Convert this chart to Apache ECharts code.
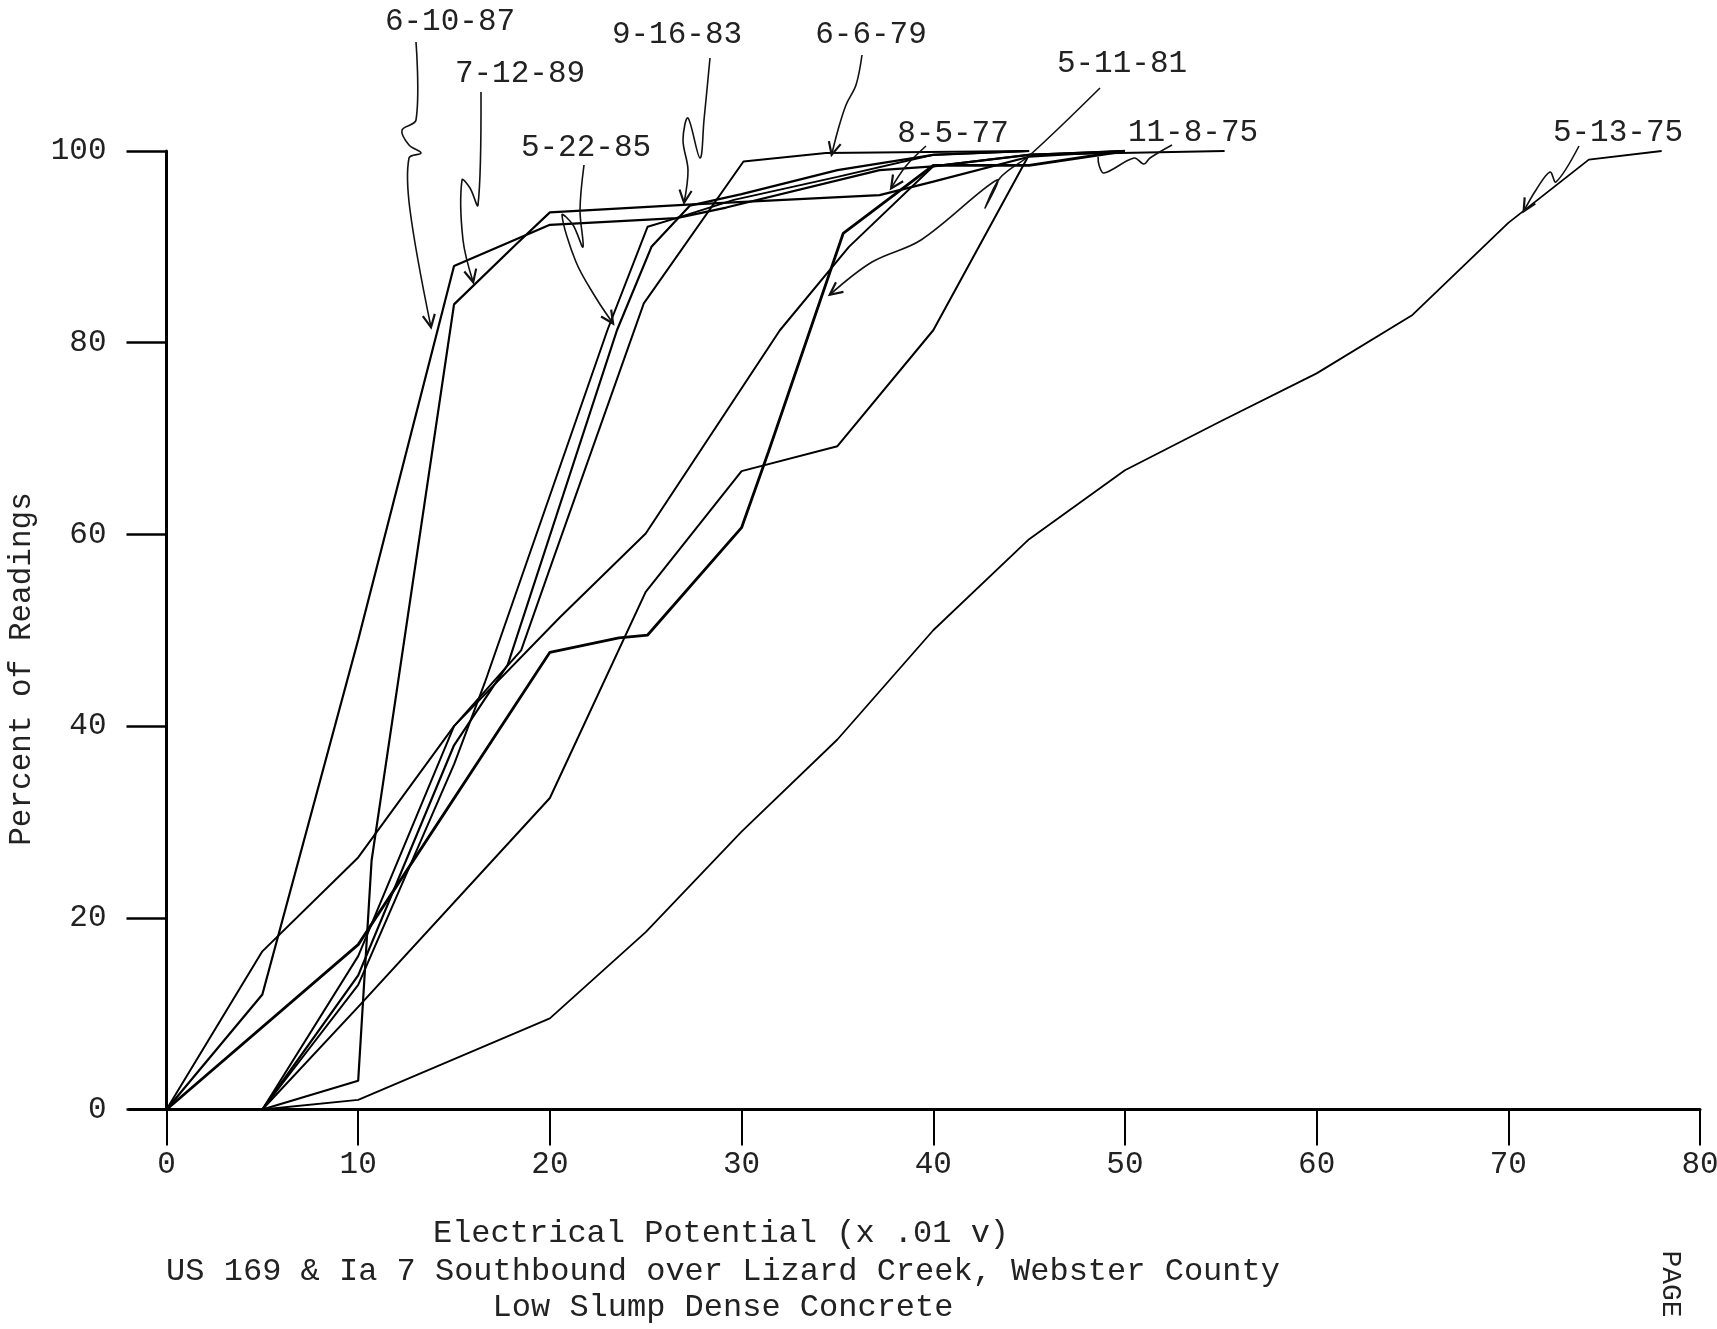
<!DOCTYPE html>
<html><head><meta charset="utf-8">
<script src="https://cdn.jsdelivr.net/npm/echarts@6/dist/echarts.min.js"></script>
<style>html,body{margin:0;padding:0;background:#fff}#c{width:1717px;height:1329px}</style>
</head><body><div id="c"></div>
<script>
// ---- data (x = electrical potential, x .01 v ; y = percent of readings) ----
const xTickValues = [0, 10, 20, 30, 40, 50, 60, 70, 80];
const yTickValues = [0, 20, 40, 60, 80, 100];
const seriesNames = ['6-10-87', '7-12-89', '9-16-83', '6-6-79', '5-22-85', '5-11-81', '8-5-77', '11-8-75', '5-13-75'];

const s_6_10_87 = [[0,0],[5,12],[10,49],[15,88],[20,92.3],[26.6,93],[29.2,94.1],[37.2,98],[40,98.4],[45,99.6],[50,100]];
const s_7_12_89 = [[5,0],[10,3],[10.7,26],[15,84],[18.2,90.2],[20,93.6],[27.2,94.4],[37.2,95.4],[40,96.8],[45,99.4],[50,100]];
const s_9_16_83 = [[5,0],[10,14],[15,38],[17.8,46.4],[23.5,81.3],[25.3,90],[27.3,94.3],[30,95.5],[35,98],[40,99.6],[45,100]];
const s_6_6_79  = [[5,0],[10,16],[15,40],[18.5,47.9],[20.1,57],[24.9,84.1],[30.1,98.9],[34.4,99.8],[45,100]];
const s_5_22_85 = [[5,0],[10,13],[15,36],[16.6,44.5],[23,81.3],[25.1,92.1],[26.6,93],[29.6,94.9],[35,97.3],[40,99.6],[45,100]];
const s_5_11_81 = [[0,0],[10,17.2],[20,47.7],[23.6,49.2],[25.1,49.5],[30,60.7],[31.4,68.6],[35.3,91.4],[40,98.5],[45,98.5],[50,100]];
const s_8_5_77  = [[0,0],[5,16.5],[10,26.3],[15,40],[20.5,51.3],[25,60.1],[32,81.3],[35.6,90],[40,98.4],[45,99.6],[50,100]];
const s_11_8_75 = [[5,0],[10,10.7],[20,32.5],[25,54],[30,66.6],[35,69.2],[40,81.3],[45,99.6],[55.2,100]];
const s_5_13_75 = [[5,0],[10,1],[20,9.5],[25,18.5],[30,29],[35,38.6],[40,50],[45,59.5],[50,66.7],[55,71.8],[60,76.8],[65,82.9],[70,92.5],[74.2,99.1],[78,100]];

const seriesData = [s_6_10_87, s_7_12_89, s_9_16_83, s_6_6_79, s_5_22_85, s_5_11_81, s_8_5_77, s_11_8_75, s_5_13_75];
const seriesWidths = [2.2, 2.2, 2.2, 2, 2, 2.8, 2, 2, 1.8];

// annotation targets (data coordinates the hand-drawn arrows point to)
const labelTargets = {
  '6-10-87': [13.8, 81.6], '7-12-89': [16, 86.3], '9-16-83': [27, 94.6], '6-6-79': [34.7, 99.6],
  '5-22-85': [23.3, 82], '5-11-81': [34.6, 85], '8-5-77': [37.8, 96.1], '11-8-75': [48.6, 99.4], '5-13-75': [70.8, 93.7]
};

// ---- layout of the annotations (pixels) ----
const labelLayout = [
  {name:'6-10-87', pos:[450,22], path:[[416,42],[416,120],[402,130],[409,145],[421,153],[409,158],[410,210]], arrow:true},
  {name:'7-12-89', pos:[520,74], path:[[481,92],[478,205],[470,188],[462,180],[463,240]], arrow:true},
  {name:'9-16-83', pos:[677,35], path:[[710,58],[704,120],[700,158],[688,118],[683,140],[688,170]], arrow:true},
  {name:'6-6-79',  pos:[871,35], path:[[862,55],[856,85],[846,105],[838,130]], arrow:true},
  {name:'5-22-85', pos:[586,148], path:[[584,165],[580,210],[583,247],[573,225],[562,215],[576,262],[596,298]], arrow:true},
  {name:'5-11-81', pos:[1122,64], path:[[1100,88],[1030,155],[1000,178],[985,208],[997,180],[921,240],[872,262]], arrow:true},
  {name:'8-5-77',  pos:[953,134], path:[[926,146],[906,166]], arrow:true},
  {name:'11-8-75', pos:[1193,133], path:[[1172,145],[1150,158],[1144,164],[1134,158],[1104,173],[1099,165]], arrow:false},
  {name:'5-13-75', pos:[1618,133], path:[[1579,146],[1556,182],[1550,172],[1536,190]], arrow:true}
];

const FONT = "'Liberation Mono', 'DejaVu Sans Mono', monospace";

const chart = echarts.init(document.getElementById('c'), null, {renderer: 'canvas'});

const option = {
  animation: false,
  backgroundColor: '#fff',
  grid: {left: 166.5, right: 17, top: 151, bottom: 219.5, containLabel: false, outerBoundsMode: 'none'},
  xAxis: {
    type: 'value', min: 0, max: 80, interval: 10,
    axisLine: {show: true, onZero: false, lineStyle: {color: '#000', width: 3}},
    axisTick: {show: true, inside: false, length: 36, lineStyle: {color: '#000', width: 2}},
    axisLabel: {show: true, margin: 40, fontFamily: FONT, fontSize: 31, color: '#222',
      formatter: v => xTickValues.indexOf(v) >= 0 ? String(v) : ''},
    splitLine: {show: false}
  },
  yAxis: {
    type: 'value', min: 0, max: 100, interval: 20,
    axisLine: {show: true, onZero: false, lineStyle: {color: '#000', width: 3}},
    axisTick: {show: true, inside: false, length: 40, lineStyle: {color: '#000', width: 2.5}},
    axisLabel: {show: true, margin: 60, fontFamily: FONT, fontSize: 31, color: '#222',
      formatter: v => yTickValues.indexOf(v) >= 0 ? String(v) : ''},
    splitLine: {show: false}
  },
  series: seriesData.map((d, i) => ({
    name: seriesNames[i], type: 'line', data: d, showSymbol: false, symbol: 'none',
    lineStyle: {color: '#000', width: seriesWidths[i]}, z: 3
  }))
};
chart.setOption(option);

function toPx(p) { return chart.convertToPixel({gridIndex: 0}, p); }

const g = [];
const textStyle = (t, size) => ({text: t, font: size + 'px ' + FONT, fill: '#222', align: 'center', verticalAlign: 'middle'});

labelLayout.forEach(l => {
  g.push({type: 'text', x: l.pos[0], y: l.pos[1], style: textStyle(l.name, 31), z: 10});
  const tgt = toPx(labelTargets[l.name]);
  const pts = l.path.concat([tgt]);
  g.push({type: 'polyline', shape: {points: pts, smooth: 0.35}, style: {stroke: '#111', lineWidth: 1.6, fill: null}, z: 10});
  if (l.arrow) {
    const a = pts[pts.length - 2], b = tgt;
    const ang = Math.atan2(b[1] - a[1], b[0] - a[0]);
    const L = 14, w = 0.45;
    const p1 = [b[0] - L * Math.cos(ang - w), b[1] - L * Math.sin(ang - w)];
    const p2 = [b[0] - L * Math.cos(ang + w), b[1] - L * Math.sin(ang + w)];
    g.push({type: 'polyline', shape: {points: [p1, b, p2]}, style: {stroke: '#111', lineWidth: 2.2, fill: null}, z: 10});
  }
});

// left extension of the x axis line
const o = toPx([0, 0]);
g.push({type: 'line', shape: {x1: o[0] - 38, y1: o[1], x2: o[0], y2: o[1]}, style: {stroke: '#000', lineWidth: 3}, z: 5});

// axis titles and captions
g.push({type: 'text', x: 22, y: 669, rotation: Math.PI / 2, style: textStyle('Percent of Readings', 31)});
g.push({type: 'text', x: 721, y: 1234, style: textStyle('Electrical Potential (x .01 v)', 32)});
g.push({type: 'text', x: 723, y: 1272, style: textStyle('US 169 & Ia 7 Southbound over Lizard Creek, Webster County', 32)});
g.push({type: 'text', x: 723, y: 1308, style: textStyle('Low Slump Dense Concrete', 32)});
g.push({type: 'text', x: 1670, y: 1284, rotation: -Math.PI / 2, style: textStyle('PAGE', 28)});

chart.setOption({graphic: g});
</script>
</body></html>
